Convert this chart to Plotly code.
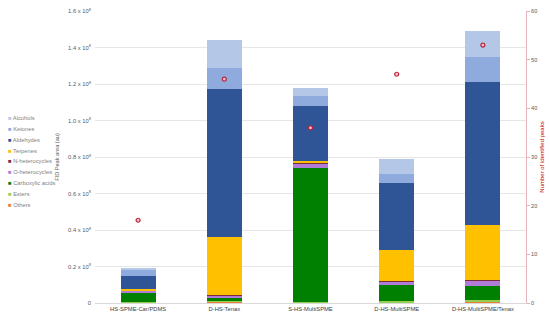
import plotly.graph_objects as go

categories = ["HS-SPME-Car/PDMS", "D-HS-Tenax", "S-HS-MultiSPME", "D-HS-MultiSPME", "D-HS-MultiSPME/Tenax"]

# FID peak areas (x 10^8), stacked bottom to top
others = [0.001, 0.007, 0.001, 0.002, 0.009]
esters = [0.002, 0.006, 0.004, 0.010, 0.009]
carboxylic_acids = [0.057, 0.018, 0.735, 0.086, 0.077]
o_heterocycles = [0.007, 0.010, 0.026, 0.022, 0.027]
n_heterocycles = [0.003, 0.004, 0.002, 0.002, 0.006]
terpenes = [0.005, 0.316, 0.011, 0.170, 0.301]
aldehydes = [0.072, 0.810, 0.303, 0.365, 0.780]
ketones = [0.039, 0.117, 0.053, 0.050, 0.137]
alcohols = [0.005, 0.151, 0.044, 0.083, 0.146]

identified_peaks = [17, 46, 36, 47, 53]

series_names = ["Others", "Esters", "Carboxylic acids", "O-heterocycles", "N-heterocycles",
                "Terpenes", "Aldehydes", "Ketones", "Alcohols"]
series_values = [others, esters, carboxylic_acids, o_heterocycles, n_heterocycles,
                 terpenes, aldehydes, ketones, alcohols]
series_colors = ["#ed7d31", "#92d050", "#008000", "#b07cd8", "#7b2c3b",
                 "#ffc000", "#2f5597", "#8faadc", "#b4c7e7"]

left_tickvals = [0, 0.2, 0.4, 0.6, 0.8, 1.0, 1.2, 1.4, 1.6]
left_ticktext = ["0"] + [f"{v:.1f} x 10<sup>8</sup>" for v in left_tickvals[1:]]
right_tickvals = [0, 10, 20, 30, 40, 50, 60]

FONT = "Liberation Sans, Arial, sans-serif"

fig = go.Figure()
for name, vals, col in zip(series_names, series_values, series_colors):
    fig.add_trace(go.Bar(x=categories, y=vals, name=name, marker=dict(color=col, line=dict(width=0)),
                         showlegend=False))

fig.add_trace(go.Scatter(x=categories, y=identified_peaks, yaxis="y2", mode="markers",
                         marker=dict(symbol="circle", size=4, color="#f2c4c8",
                                     line=dict(color="#b8233f", width=1.2)),
                         showlegend=False, name="Number of identified peaks"))

# legend drawn as annotations (compact spacing like the original)
top_px, step_px, plot_h = 118, 10.85, 292
for i, (name, col) in enumerate(zip(series_names[::-1], series_colors[::-1])):
    ypx = top_px + i * step_px
    fig.add_annotation(xref="paper", yref="paper", x=-0.206, y=(303 - ypx) / plot_h,
                       xanchor="left", yanchor="middle", showarrow=False,
                       text=f"<span style='color:{col}'>■</span> {name}",
                       font=dict(family=FONT, size=5.8, color="#7f7f7f"))

fig.update_layout(
    width=550, height=321,
    margin=dict(l=95, r=24, t=11, b=18, autoexpand=False),
    paper_bgcolor="white", plot_bgcolor="white",
    barmode="stack", bargap=0.595,
    font=dict(family=FONT, size=6, color="#595959"),
    xaxis=dict(showline=True, linecolor="#d9d9d9", linewidth=1, automargin=False,
               tickfont=dict(size=5.8, color="#404040"), ticks=""),
    yaxis=dict(range=[0, 1.6], tickvals=left_tickvals, ticktext=left_ticktext, automargin=False,
               showgrid=True, gridcolor="#e6e6e6", gridwidth=1, zeroline=False,
               showline=False, tickfont=dict(size=5.8, color="#595959"), ticklabelstandoff=3,
               title=dict(text="FID Peak area (au)", font=dict(size=5.6, color="#595959"), standoff=8)),
    yaxis2=dict(range=[0, 60], tickvals=right_tickvals, overlaying="y", side="right", automargin=False,
                showgrid=False, zeroline=False, showline=True, linecolor="#e3b4bc", linewidth=1,
                ticks="outside", ticklen=3, tickcolor="#e3b4bc",
                tickfont=dict(size=5.6, color="#595959"),
                title=dict(text="Number of identified peaks", font=dict(size=6, color="#c00000"), standoff=3)),
)

fig.write_html("out.html", config={"displayModeBar": False},
               post_script="document.body.style.margin='0';")
